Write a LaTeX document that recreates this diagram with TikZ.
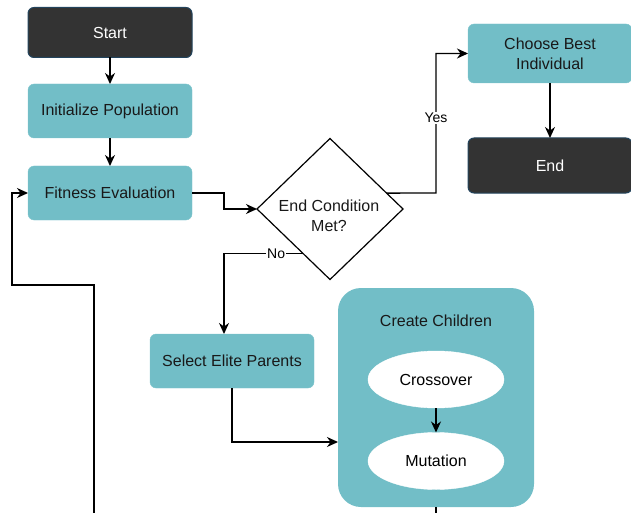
\documentclass[tikz,border=0pt]{standalone}
\usepackage{fontspec}
\setmainfont{Liberation Sans}
\usetikzlibrary{shapes.geometric,arrows.meta,calc}
\definecolor{teal1}{RGB}{114,190,199}
\definecolor{dark1}{RGB}{51,51,51}
\definecolor{darkedge}{RGB}{35,68,93}
\begin{document}
\begin{tikzpicture}[x=1pt,y=-1pt,
  every node/.style={font=\fontsize{16}{20}\selectfont, outer sep=0pt},
  tealbox/.style={rectangle, rounded corners=6pt, fill=teal1, draw=teal1!90!white, text=black!90, minimum width=164pt, minimum height=54pt, align=center, inner sep=2pt},
  darkbox/.style={rectangle, rounded corners=6pt, fill=dark1, draw=darkedge, line width=1pt, text=white, minimum width=164pt, align=center},
  ell/.style={ellipse, fill=white, draw=white, minimum width=136pt, minimum height=57pt, inner sep=0pt},
  lbl/.style={font=\fontsize{14}{16}\selectfont, fill=white, inner sep=1pt},
  conn/.style={line width=1.3pt, draw=black},
  arr/.style={conn, -{Stealth[length=11pt,width=10pt,inset=3.5pt]}}
]
\useasboundingbox (0,0) rectangle (631,513);

\node[darkbox, minimum height=50pt] (start) at (110,32.5) {Start};
\node[tealbox] (init) at (110,111) {Initialize Population};
\node[tealbox] (fit) at (110,193) {Fitness Evaluation};
\node[diamond, draw=black, line width=1.2pt, fill=white, minimum width=146pt, minimum height=141pt, inner sep=0pt] (dia) at (330,209) {};
\node[align=center, text=black!90] (diatext) at (329,216) {End Condition\\Met?};
\node[tealbox, minimum height=59pt] (best) at (550,53.5) {Choose Best\\Individual};
\node[darkbox, minimum height=55pt] (end) at (550,165.5) {End};
\node[tealbox] (sel) at (232,361) {Select Elite Parents};
\node[rectangle, rounded corners=23pt, fill=teal1, minimum width=196pt, minimum height=219pt] (cc) at (436,397.5) {};
\node[text=black!90] (cctitle) at (436,321) {Create Children};
\node[ell] (cross) at (436,379.5) {Crossover};
\node[ell] (mut) at (436,461) {Mutation};

\coordinate (yesstart) at ($(dia.north)!0.775!(dia.east)$);
\coordinate (nostart) at ($(dia.west)!0.63!(dia.south)$);
\coordinate (botA) at (436,520);
\coordinate (botB) at (94,520);
\coordinate (loopL) at (12,285);

\draw[arr] (start) -- (init);
\draw[arr] (init) -- (fit);
\draw[arr] (fit.east) -- ++(32,0) |- (dia.west);
\draw[arr] (yesstart) -- (436,193) |- node[lbl, pos=0.27] {Yes} (best.west);
\draw[arr] (best) -- (end);
\draw[arr] (nostart) -| node[lbl, pos=0.17] {No} (224,334);
\draw[arr] (sel.south) |- (cc.west |- 0,442);
\draw[arr] (cross) -- (mut);
\draw[conn] (cc.south) -- (botA);
\draw[arr] (botB) |- (loopL) |- (fit.west);
\end{tikzpicture}
\end{document}
